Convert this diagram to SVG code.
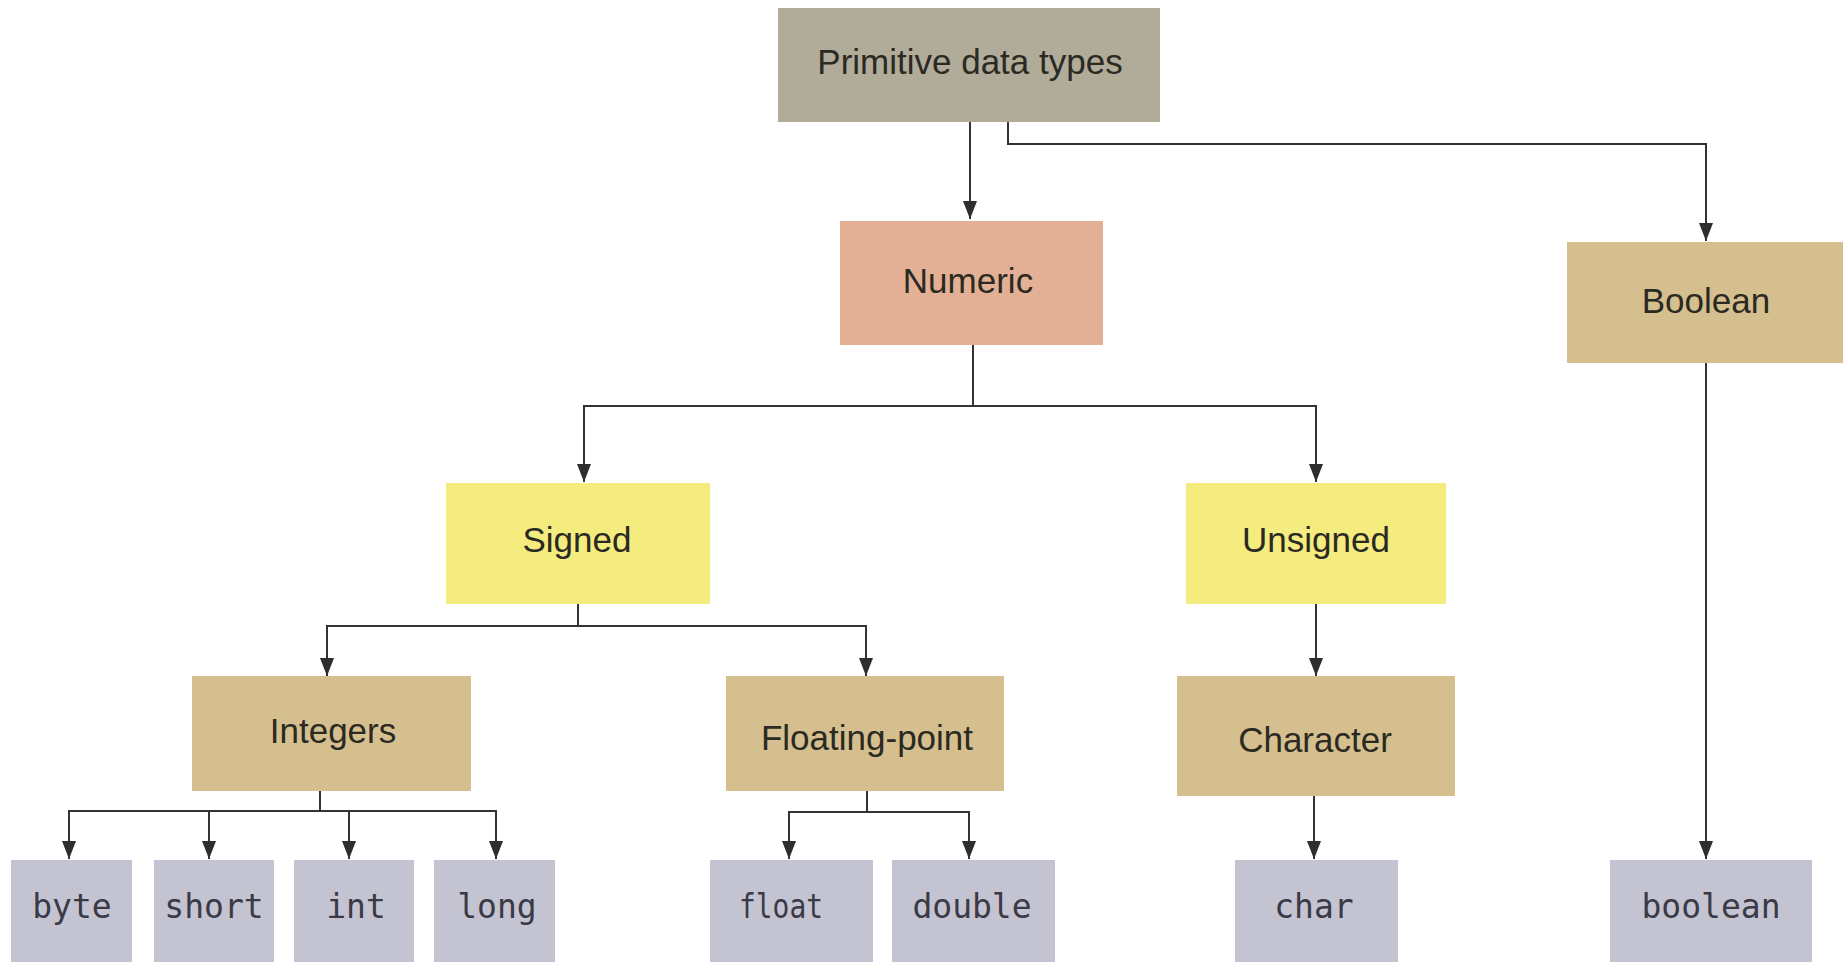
<svg xmlns="http://www.w3.org/2000/svg" width="1843" height="969" viewBox="0 0 1843 969">
  <style>
    .box-root { fill: #b1ab9a; }
    .box-num { fill: #e3b096; }
    .box-tan { fill: #d6bf8f; }
    .box-yel { fill: #f5ec80; }
    .box-leaf { fill: #c4c3d1; }
    .lbl { font-family: "Liberation Sans", Arial, sans-serif; font-size: 35px; fill: #2b2a22; text-anchor: middle; }
    .code { font-family: "DejaVu Sans Mono", "Liberation Mono", monospace; font-size: 33px; fill: #3a3946; text-anchor: middle; }
    .wire { fill: none; stroke: #333333; stroke-width: 2; }
  </style>
  <defs>
    <marker id="arrow" markerUnits="userSpaceOnUse" markerWidth="18" markerHeight="14" refX="18" refY="7" orient="auto">
      <path d="M0,0 L18,7 L0,14 Z" fill="#2e2e2e"/>
    </marker>
  </defs>
  <rect width="1843" height="969" fill="#ffffff"/>

  <g id="connectors">
    <path class="wire" marker-end="url(#arrow)" d="M970 122 V219"/>
    <path class="wire" marker-end="url(#arrow)" d="M1008 122 V144 H1706 V241"/>
    <path class="wire" marker-end="url(#arrow)" d="M973 345 V406 H584 V482"/>
    <path class="wire" marker-end="url(#arrow)" d="M973 406 H1316 V482"/>
    <path class="wire" marker-end="url(#arrow)" d="M578 604 V626 H327 V676"/>
    <path class="wire" marker-end="url(#arrow)" d="M578 626 H866 V676"/>
    <path class="wire" marker-end="url(#arrow)" d="M1316 604 V676"/>
    <path class="wire" marker-end="url(#arrow)" d="M320 790 V811 H69 V859"/>
    <path class="wire" marker-end="url(#arrow)" d="M320 811 H209 V859"/>
    <path class="wire" marker-end="url(#arrow)" d="M320 811 H349 V859"/>
    <path class="wire" marker-end="url(#arrow)" d="M320 811 H496 V859"/>
    <path class="wire" marker-end="url(#arrow)" d="M867 791 V812 H789 V859"/>
    <path class="wire" marker-end="url(#arrow)" d="M867 812 H969 V859"/>
    <path class="wire" marker-end="url(#arrow)" d="M1314 796 V859"/>
    <path class="wire" marker-end="url(#arrow)" d="M1706 363 V859"/>
  </g>

  <g id="primitive">
    <rect class="box-root" x="778" y="8" width="382" height="114"/>
    <text class="lbl" x="970" y="74">Primitive data types</text>
  </g>
  <g id="numeric">
    <rect class="box-num" x="840" y="221" width="263" height="124"/>
    <text class="lbl" x="968" y="293">Numeric</text>
  </g>
  <g id="boolean-group">
    <rect class="box-tan" x="1567" y="242" width="276" height="121"/>
    <text class="lbl" x="1706" y="313">Boolean</text>
  </g>
  <g id="signed">
    <rect class="box-yel" x="446" y="483" width="264" height="121"/>
    <text class="lbl" x="577" y="552">Signed</text>
  </g>
  <g id="unsigned">
    <rect class="box-yel" x="1186" y="483" width="260" height="121"/>
    <text class="lbl" x="1316" y="552">Unsigned</text>
  </g>
  <g id="integers">
    <rect class="box-tan" x="192" y="676" width="279" height="115"/>
    <text class="lbl" x="333" y="743">Integers</text>
  </g>
  <g id="floating-point">
    <rect class="box-tan" x="726" y="676" width="278" height="115"/>
    <text class="lbl" x="867" y="750">Floating-point</text>
  </g>
  <g id="character">
    <rect class="box-tan" x="1177" y="676" width="278" height="120"/>
    <text class="lbl" x="1315" y="752">Character</text>
  </g>

  <g id="byte">
    <rect class="box-leaf" x="11" y="860" width="121" height="102"/>
    <text class="code" x="72" y="918">byte</text>
  </g>
  <g id="short">
    <rect class="box-leaf" x="154" y="860" width="120" height="102"/>
    <text class="code" x="214" y="918">short</text>
  </g>
  <g id="int">
    <rect class="box-leaf" x="294" y="860" width="120" height="102"/>
    <text class="code" x="356" y="918">int</text>
  </g>
  <g id="long">
    <rect class="box-leaf" x="434" y="860" width="121" height="102"/>
    <text class="code" x="497" y="918">long</text>
  </g>
  <g id="float">
    <rect class="box-leaf" x="710" y="860" width="163" height="102"/>
    <text class="code" x="781" y="918" textLength="84" lengthAdjust="spacingAndGlyphs">float</text>
  </g>
  <g id="double">
    <rect class="box-leaf" x="892" y="860" width="163" height="102"/>
    <text class="code" x="972" y="918">double</text>
  </g>
  <g id="char">
    <rect class="box-leaf" x="1235" y="860" width="163" height="102"/>
    <text class="code" x="1314" y="918">char</text>
  </g>
  <g id="boolean">
    <rect class="box-leaf" x="1610" y="860" width="202" height="102"/>
    <text class="code" x="1711" y="918">boolean</text>
  </g>
</svg>
